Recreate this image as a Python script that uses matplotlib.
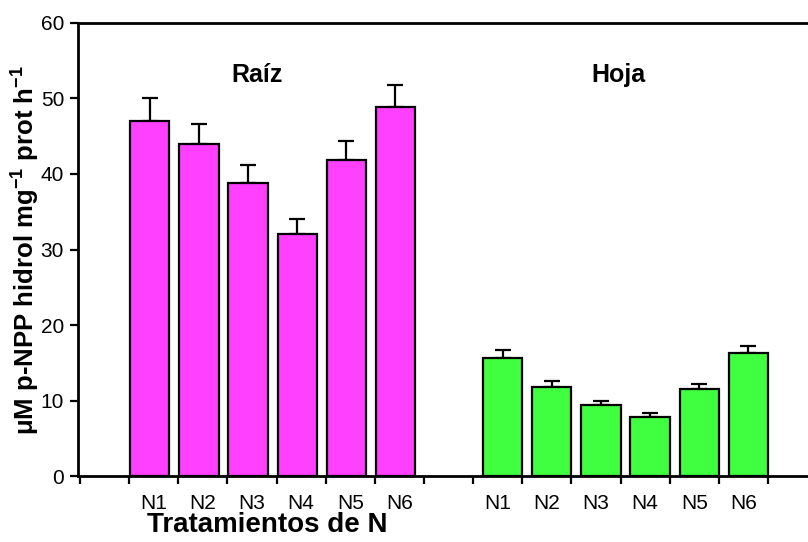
import matplotlib
matplotlib.use("Agg")
import matplotlib.pyplot as plt

# enzyme activity per N treatment, root and leaf
treatments = ["N1", "N2", "N3", "N4", "N5", "N6"]
raiz = [47.0, 43.9, 38.8, 32.1, 41.8, 48.8]
raiz_err = [3.0, 2.7, 2.4, 1.9, 2.5, 3.0]
hoja = [15.7, 11.8, 9.4, 7.9, 11.5, 16.3]
hoja_err = [1.0, 0.8, 0.6, 0.5, 0.7, 1.0]

plt.rcParams["font.family"] = ["Liberation Sans", "DejaVu Sans"]
plt.rcParams["mathtext.fontset"] = "custom"
plt.rcParams["mathtext.rm"] = "Liberation Sans"
plt.rcParams["mathtext.bf"] = "Liberation Sans:bold"

W, H = 808, 542
fig = plt.figure(figsize=(W / 100, H / 100), dpi=100)
ax = fig.add_axes([78 / W, (H - 476.3) / H, (W - 78) / W, 453.6 / H])

width = 0.8
raiz_left = [1.02 + i for i in range(6)]
hoja_left = [8.2 + i for i in range(6)]
raiz_c = [x + width / 2 for x in raiz_left]
hoja_c = [x + width / 2 for x in hoja_left]

ax.bar(raiz_left, raiz, width=width, align="edge", color="#FF40FF",
       edgecolor="black", linewidth=1.6, zorder=2)
ax.bar(hoja_left, hoja, width=width, align="edge", color="#40FF40",
       edgecolor="black", linewidth=1.6, zorder=2)
ax.errorbar(raiz_c, raiz, yerr=[[0] * 6, raiz_err], fmt="none", ecolor="black",
            elinewidth=1.6, capsize=5.5, capthick=1.6, zorder=1)
ax.errorbar(hoja_c, hoja, yerr=[[0] * 6, hoja_err], fmt="none", ecolor="black",
            elinewidth=1.6, capsize=5.5, capthick=1.6, zorder=1)

ax.set_xlim(-0.04, (W - 80) / 49.14)
ax.set_ylim(0, 60)
ax.set_yticks(range(0, 61, 10))
ax.set_xticks(range(15))
ax.set_xticklabels([])
label_pos = [1.5 + i for i in range(6)] + [8.5 + i for i in range(6)]
ax.set_xticks(label_pos, treatments + treatments, minor=True)

ax.tick_params(axis="both", which="major", direction="out", length=6, width=1.6,
               labelsize=15, pad=4)
ax.tick_params(axis="x", which="minor", length=0, pad=13, labelsize=15)

for s in ["left", "bottom", "top"]:
    ax.spines[s].set_linewidth(2)
ax.spines["right"].set_visible(False)

ax.text(3.6, 52.2, "Raíz", ha="center", va="baseline", fontsize=18, fontweight="bold")
ax.text(10.95, 52.2, "Hoja", ha="center", va="baseline", fontsize=18, fontweight="bold")

ax.set_ylabel(r"μM p-NPP hidrol mg$^{\mathbf{-1}}$ prot h$^{\mathbf{-1}}$",
              fontsize=18.5, fontweight="bold")
ax.yaxis.set_label_coords(-0.050, 0.5)
ax.set_xlabel("Tratamientos de N", fontsize=20, fontweight="bold")
ax.xaxis.set_label_coords(0.259, -0.079)

fig.savefig("out.png", dpi=100, facecolor="white")
